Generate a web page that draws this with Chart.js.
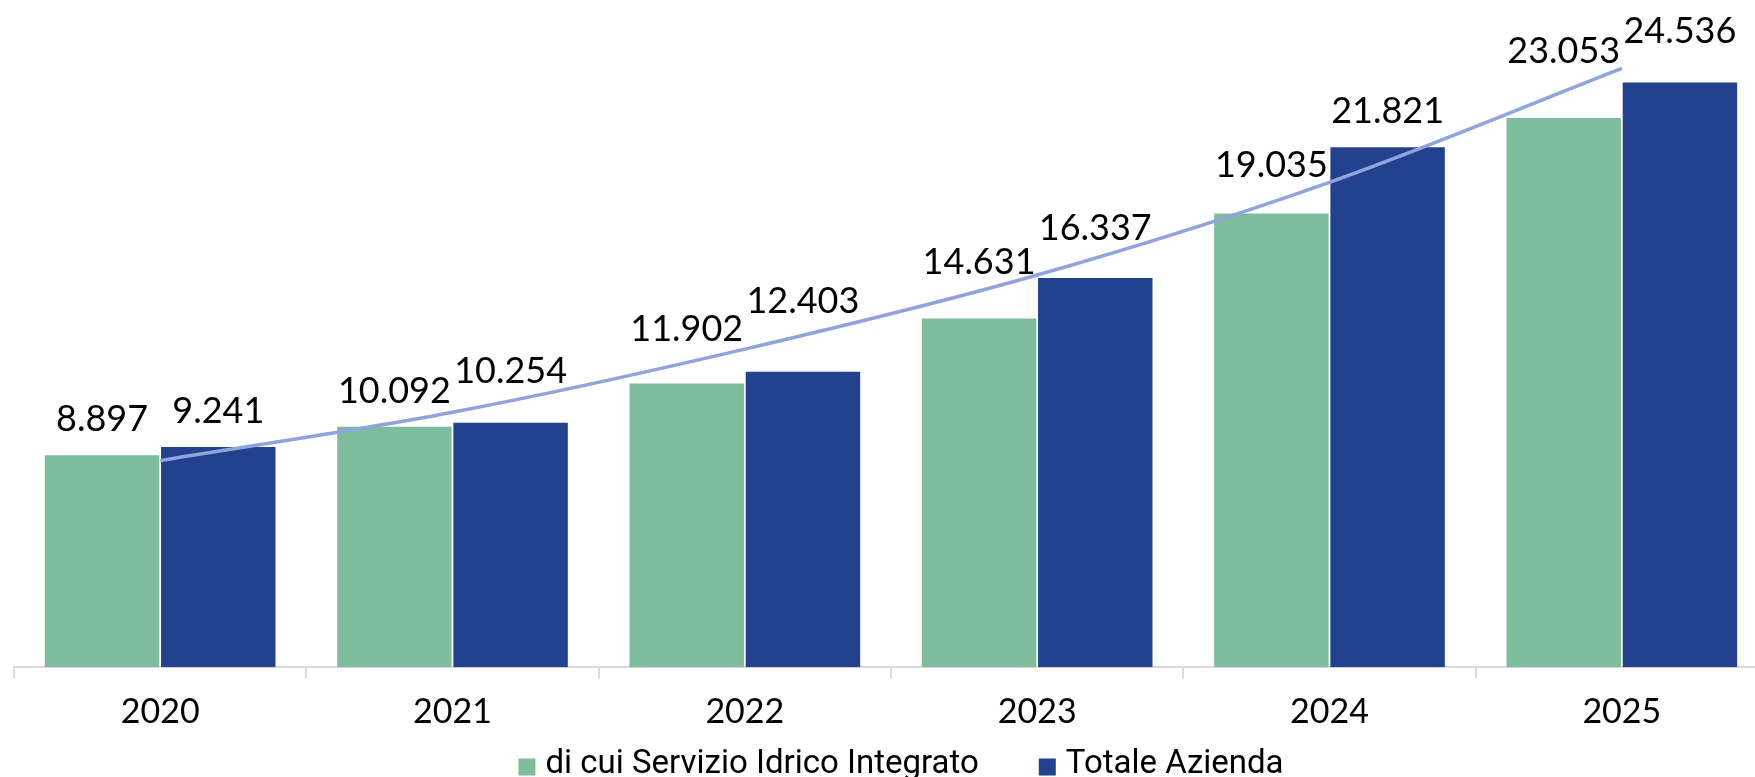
<!DOCTYPE html>
<html>
<head>
<meta charset="utf-8">
<script src="https://cdn.jsdelivr.net/npm/chart.js@4/dist/chart.umd.min.js"></script>
<style>
    body { margin: 0; overflow: hidden; background: #fff; }
    #wrap { width: 1768px; height: 777px; }
</style>
</head>
<body>
<div id="wrap"><canvas id="barChart"></canvas></div>
<script>
const anni = ['2020', '2021', '2022', '2023', '2024', '2025'];
const servizioIdrico = [8.897, 10.092, 11.902, 14.631, 19.035, 23.053];
const totaleAzienda = [9.241, 10.254, 12.403, 16.337, 21.821, 24.536];
// trend line at each year
const tendenza = [8.67, 10.70, 13.35, 16.46, 20.35, 25.13];

// extra lift of each value label (labels were moved by hand in the original)
const liftVerde = [0, 0, 19, 21, 13, 31];
const liftBlu = [0, 16, 35, 14, 0, 16];

const verde = '#7DBD9B';
const blu = '#22418F';
const lineaTrend = '#8FA3DD';

function formatta(v) {
    return v.toFixed(3);
}

//Draw value labels above every bar (dataset 0 is the trend line)
const valueLabels = {
    id: 'valueLabels',
    afterDatasetsDraw(chart) {
        const ctx = chart.ctx;
        ctx.save();
        ctx.font = '36px Lato';
        ctx.fillStyle = '#000';
        ctx.textAlign = 'center';
        ctx.textBaseline = 'alphabetic';
        [1, 2].forEach(function (di) {
            const lift = di === 1 ? liftVerde : liftBlu;
            chart.getDatasetMeta(di).data.forEach(function (bar, i) {
                const v = chart.data.datasets[di].data[i];
                ctx.fillText(formatta(v), bar.x, bar.y - 24 - lift[i]);
            });
        });
        ctx.restore();
    }
};

//Legend drawn by hand so the spacing matches the original
const legenda = {
    id: 'legenda',
    afterDraw(chart) {
        const ctx = chart.ctx;
        ctx.save();
        ctx.font = '33px Roboto';
        ctx.textBaseline = 'middle';
        ctx.textAlign = 'left';
        const items = chart.data.datasets.filter(d => d.type !== 'line');
        const box = 17, gapText = 10, gapItem = 60;
        let total = 0;
        items.forEach(function (d, i) {
            total += box + gapText + ctx.measureText(d.label).width;
            if (i > 0) total += gapItem;
        });
        const area = chart.chartArea;
        let x = (area.left + area.right) / 2 + 10 - total / 2;
        const y = 765;
        items.forEach(function (d) {
            ctx.fillStyle = d.backgroundColor;
            ctx.fillRect(x, y - box / 2 + 2, box, box);
            x += box + gapText;
            ctx.fillStyle = '#000';
            ctx.fillText(d.label, x, y);
            x += ctx.measureText(d.label).width + gapItem;
        });
        ctx.restore();
    }
};

let ctx = document.getElementById('barChart').getContext('2d');

let chart = new Chart(ctx, {
    type: 'bar',
    data: {
        labels: anni,
        datasets: [{
            type: 'line',
            label: 'Tendenza',
            data: tendenza,
            borderColor: lineaTrend,
            borderWidth: 3.5,
            pointRadius: 0,
            cubicInterpolationMode: 'monotone',
            order: 0
        }, {
            label: 'di cui Servizio Idrico Integrato',
            data: servizioIdrico,
            backgroundColor: verde,
            order: 1
        }, {
            label: 'Totale Azienda',
            data: totaleAzienda,
            backgroundColor: blu,
            order: 1
        }]
    },
    options: {
        responsive: true,
        maintainAspectRatio: false,
        animation: false,
        layout: { padding: { left: 14, right: 0, top: 0, bottom: 32 } },
        datasets: {
            bar: { categoryPercentage: 0.795, barPercentage: 0.985 }
        },
        plugins: {
            legend: { display: false },
            tooltip: { enabled: false }
        },
        scales: {
            x: {
                grid: {
                    display: true,
                    drawOnChartArea: false,
                    drawTicks: true,
                    tickLength: 11,
                    color: '#D9D9D9',
                    lineWidth: 2
                },
                border: { display: true, color: '#D9D9D9', width: 2 },
                ticks: {
                    color: '#000',
                    padding: 13,
                    font: { family: 'Lato', size: 34 }
                }
            },
            y: {
                display: false,
                min: 0,
                max: 28
            }
        }
    },
    plugins: [valueLabels, legenda]
});
</script>
</body>
</html>
